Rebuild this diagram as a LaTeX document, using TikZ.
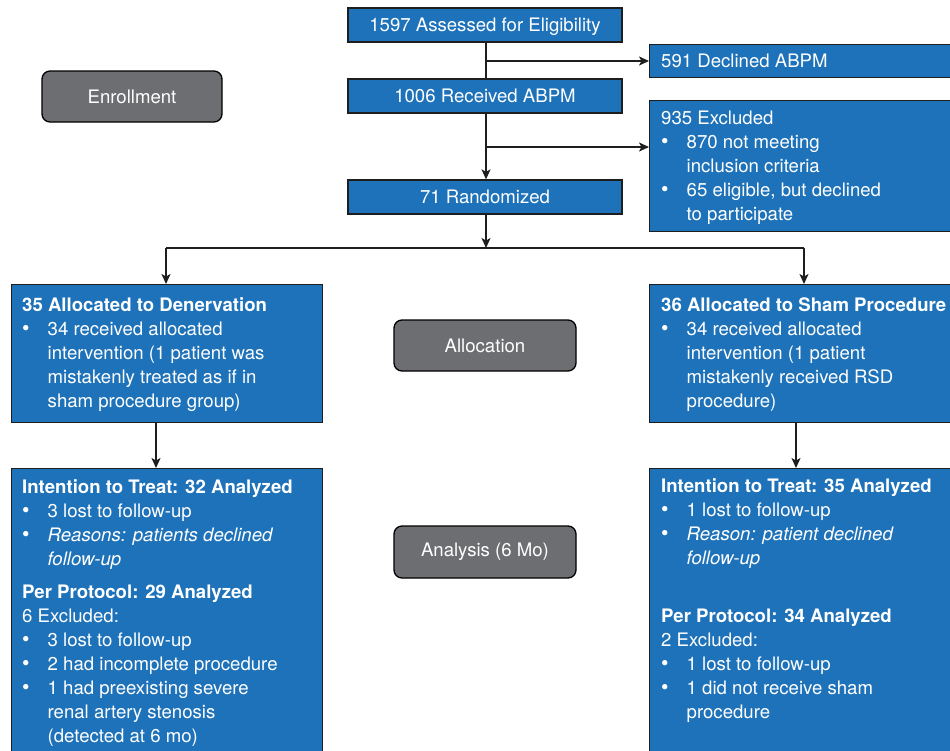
\documentclass[tikz,border=0pt]{standalone}
\usepackage{fontspec}
\setmainfont{TeX Gyre Heros}
\usetikzlibrary{arrows.meta}
\definecolor{boxblue}{RGB}{30,114,185}
\definecolor{boxgray}{RGB}{109,110,113}
\definecolor{linedark}{RGB}{30,30,30}
\newcommand{\bl}{\makebox[25.5pt][l]{\scalebox{1.15}{\textbullet}}}
\newcommand{\ind}{\hspace*{25.5pt}}
\tikzset{
  bluebox/.style={draw=linedark, line width=1.3pt, fill=boxblue, text=white, inner sep=0pt},
  graybox/.style={draw=black, line width=1.3pt, fill=boxgray, text=white, rounded corners=8pt, inner sep=0pt},
  txt/.style={text=white, inner sep=0pt, align=left, anchor=north west},
  conn/.style={draw=linedark, line width=1.4pt},
  arr/.style={conn, -{Stealth[length=10pt,width=9pt,inset=2.5pt]}},
  every node/.style={font=\fontsize{18.6}{24}\selectfont}
}
\begin{document}
\begin{tikzpicture}[x=1pt,y=-1pt]
\clip (0,0) rectangle (950,750);
\fill[white] (0,0) rectangle (950,750);
% boxes with single-line text
\node[bluebox, minimum width=274pt, minimum height=34pt, text depth=0pt] (A) at (485,25) {1597 Assessed for Eligibility};
\node[bluebox, minimum width=306pt, minimum height=33pt, anchor=north west] (D) at (649,44) {};
\node[txt, anchor=base west] (Dt) at (661,67) {591 Declined ABPM};
\node[bluebox, minimum width=274pt, minimum height=34pt] (B) at (485,96) {1006 Received ABPM};
\node[bluebox, minimum width=306pt, minimum height=131pt, anchor=north west] (E) at (649,100) {};
\node[txt] (Et) at (661,107.2) {\strut 935 Excluded\\
\bl 870 not meeting\\
\ind inclusion criteria\\
\bl 65 eligible, but declined\\
\ind to participate};
\node[bluebox, minimum width=274pt, minimum height=34pt] (R) at (485,197) {71 Randomized};
% gray stage labels
\node[graybox, minimum width=180pt, minimum height=51pt] (enr) at (132,96.5) {Enrollment};
\node[graybox, minimum width=182pt, minimum height=51pt] (alloc) at (485,345.5) {Allocation};
\node[graybox, minimum width=182pt, minimum height=52pt] (anal) at (485,552) {Analysis (6 Mo)};
% allocation boxes
\node[bluebox, minimum width=311pt, minimum height=138pt, anchor=north west] (L1) at (11,284) {};
\node[txt] (L1t) at (22,294.7) {\strut\textbf{35 Allocated to Denervation}\\
\bl 34 received allocated\\
\ind intervention (1 patient was\\
\ind mistakenly treated as if in\\
\ind sham procedure group)};
\node[bluebox, minimum width=306pt, minimum height=138pt, anchor=north west] (R1) at (649,284) {};
\node[txt] (R1t) at (661,294.7) {\strut\textbf{36 Allocated to Sham Procedure}\\
\bl 34 received allocated\\
\ind intervention (1 patient\\
\ind mistakenly received RSD\\
\ind procedure)};
% analysis boxes
\node[bluebox, minimum width=311pt, minimum height=300pt, anchor=north west] (L2) at (11,468) {};
\node[txt] (L2t) at (22,476) {\strut\textbf{Intention to Treat: 32 Analyzed}\\
\bl 3 lost to follow-up\\
\bl \textit{Reasons: patients declined}\\
\ind \textit{follow-up}\\[9.5pt]
\textbf{Per Protocol: 29 Analyzed}\\
6 Excluded:\\
\bl 3 lost to follow-up\\
\bl 2 had incomplete procedure\\
\bl 1 had preexisting severe\\
\ind renal artery stenosis\\
\ind (detected at 6 mo)};
\node[bluebox, minimum width=306pt, minimum height=300pt, anchor=north west] (R2) at (649,468) {};
\node[txt] (R2t) at (661,475) {\strut\textbf{Intention to Treat: 35 Analyzed}\\
\bl 1 lost to follow-up\\
\bl \textit{Reason: patient declined}\\
\ind \textit{follow-up}\\[34pt]
\textbf{Per Protocol: 34 Analyzed}\\
2 Excluded:\\
\bl 1 lost to follow-up\\
\bl 1 did not receive sham\\
\ind procedure};
% connectors
\coordinate (d1) at (486,61);
\coordinate (e1) at (486,147);
\coordinate (sp) at (486,248);
\coordinate (sl) at (166,248);
\coordinate (sr) at (804,248);
\coordinate (l1b) at (156,422);
\coordinate (r1b) at (796,422);
\draw[conn] (A.south -| d1) -- (B.north -| d1);
\draw[arr] (d1) -- (d1 -| D.west);
\draw[arr] (B.south -| e1) -- (R.north -| e1);
\draw[arr] (e1) -- (e1 -| E.west);
\draw[arr] (R.south -| sp) -- (sp);
\draw[conn] (sl) -- (sr);
\draw[arr] (sl) -- (sl |- L1.north);
\draw[arr] (sr) -- (sr |- R1.north);
\draw[arr] (l1b) -- (l1b |- L2.north);
\draw[arr] (r1b) -- (r1b |- R2.north);
\end{tikzpicture}
\end{document}
